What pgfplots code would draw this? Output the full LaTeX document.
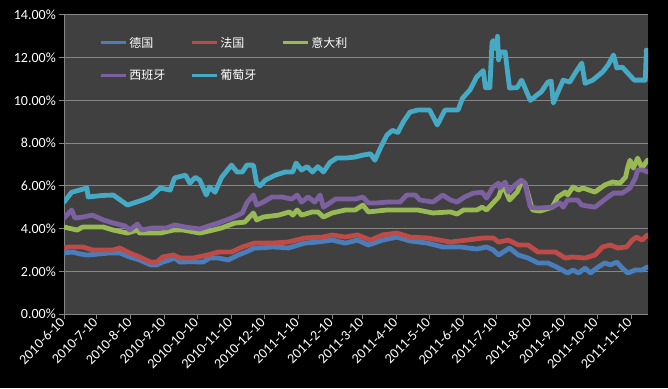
\documentclass[border=0pt]{standalone}
\usepackage{pgfplots}
\pgfplotsset{compat=1.18}
\usepackage{fontspec}
\setmainfont{Carlito}
\newfontfamily\cjk{Noto Sans CJK SC}
\definecolor{plotbg}{RGB}{64,64,64}
\definecolor{gridc}{RGB}{134,134,134}
\definecolor{sDE}{RGB}{74,126,187}
\definecolor{sFR}{RGB}{190,75,72}
\definecolor{sIT}{RGB}{152,185,84}
\definecolor{sES}{RGB}{125,96,160}
\definecolor{sPT}{RGB}{70,170,197}
\begin{document}
\begin{tikzpicture}
\fill[black] (0,0) rectangle (668pt,388pt);
\useasboundingbox (0,0) rectangle (668pt,388pt);
\begin{axis}[
  at={(64pt,74pt)}, anchor=south west,
  scale only axis, width=584pt, height=299pt,
  xmin=0, xmax=533.5, ymin=0, ymax=14,
  axis background/.style={fill=plotbg},
  axis x line*=bottom, axis y line*=left,
  axis line style={draw=gridc, line width=1pt, -},
  tick style={draw=gridc, line width=1pt},
  tick align=outside, major tick length=5pt,
  ymajorgrids, grid style={draw=gridc, line width=1pt},
  ytick={0,2,4,6,8,10,12,14},
  yticklabels={0.00\%,2.00\%,4.00\%,6.00\%,8.00\%,10.00\%,12.00\%,14.00\%},
  xtick={0,30,61,92,122,153,183,214,245,273,304,334,365,395,426,457,487,518},
  xticklabels={2010-6-10,2010-7-10,2010-8-10,2010-9-10,2010-10-10,2010-11-10,2010-12-10,2011-1-10,2011-2-10,2011-3-10,2011-4-10,2011-5-10,2011-6-10,2011-7-10,2011-8-10,2011-9-10,2011-10-10,2011-11-10},
  xticklabel style={rotate=45, anchor=east, text=white, font=\fontsize{14}{16}\selectfont, inner sep=2pt},
  yticklabel style={text=white, font=\fontsize{14}{16}\selectfont, inner sep=3pt},
  /pgf/number format/assume math mode=true,
  every axis plot/.append style={line width=4.8pt, line join=round, line cap=round},
  legend style={at={(0.055,0.94)}, anchor=north west, draw=none, fill=none, text=white,
    font=\cjk\fontsize{12}{14}\selectfont, legend columns=3,
    /tikz/every even column/.append style={column sep=23pt}, row sep=17pt},
  legend cell align=left,
  legend image code/.code={\draw[#1, line width=3pt, line cap=butt] (0pt,0pt) -- (25pt,0pt);},
]
\addplot[sDE] coordinates {(0,2.86)(8,2.9)(14,2.82)(21,2.76)(30,2.8)(42,2.86)(51,2.86)(60,2.67)(69,2.53)(79,2.3)(85,2.3)(90,2.43)(95,2.5)(101,2.62)(106,2.43)(115,2.45)(127,2.43)(133,2.62)(141,2.62)(150,2.53)(159,2.76)(166,2.9)(174,3.09)(182,3.1)(190,3.14)(198,3.12)(205,3.09)(212,3.2)(220,3.32)(232,3.37)(245,3.46)(257,3.32)(268,3.46)(278,3.23)(291,3.46)(304,3.6)(316,3.42)(332,3.32)(346,3.14)(362,3.14)(377,3.04)(386,3.14)(392,3.0)(397,2.76)(400,2.86)(407,3.09)(415,2.76)(424,2.62)(433,2.39)(442,2.39)(450,2.2)(460,1.92)(465,2.06)(470,1.92)(476,2.15)(481,1.92)(488,2.2)(494,2.39)(499,2.3)(505,2.43)(510,2.15)(515,1.92)(522,2.06)(528,2.06)(533,2.2)};
\addlegendentry{德国}
\addplot[sFR] coordinates {(0,3.09)(5,3.14)(17,3.14)(26,3.0)(45,3.0)(51,3.09)(60,2.86)(69,2.67)(79,2.43)(85,2.43)(90,2.67)(100,2.76)(106,2.62)(118,2.62)(131,2.76)(141,2.9)(153,2.9)(163,3.14)(174,3.32)(190,3.32)(205,3.37)(220,3.56)(236,3.6)(245,3.7)(257,3.6)(268,3.7)(280,3.46)(291,3.7)(304,3.79)(316,3.6)(332,3.56)(353,3.37)(368,3.46)(383,3.56)(392,3.56)(397,3.37)(406,3.46)(415,3.23)(424,3.23)(433,2.9)(449,2.9)(458,2.62)(464,2.67)(476,2.62)(485,2.76)(492,3.14)(499,3.23)(506,3.09)(514,3.14)(519,3.46)(523,3.6)(528,3.46)(533,3.7)};
\addlegendentry{法国}
\addplot[sIT] coordinates {(0,4.07)(12,3.93)(17,4.07)(36,4.07)(45,3.93)(58,3.79)(67,3.93)(69,3.79)(88,3.79)(100,3.93)(109,3.93)(124,3.79)(133,3.89)(144,4.03)(156,4.26)(165,4.3)(173,4.73)(176,4.4)(182,4.54)(196,4.63)(206,4.78)(209,4.63)(213,4.87)(217,4.63)(227,4.78)(232,4.78)(237,4.54)(245,4.73)(257,4.87)(266,4.87)(273,5.1)(278,4.78)(295,4.87)(323,4.87)(337,4.73)(353,4.78)(359,4.68)(365,4.87)(377,4.87)(382,5.0)(386,4.87)(397,5.48)(401,6.04)(407,5.34)(414,5.71)(418,6.18)(421,6.13)(428,4.87)(435,4.82)(446,5.0)(451,5.48)(458,5.71)(460,5.57)(465,5.95)(470,5.8)(474,5.9)(485,5.71)(494,6.04)(501,6.18)(508,6.13)(513,6.41)(515,6.88)(517,7.2)(520,6.83)(524,7.3)(528,6.83)(533,7.2)};
\addlegendentry{意大利}
\addplot[sES] coordinates {(0,4.49)(7,4.87)(10,4.49)(17,4.54)(26,4.63)(30,4.54)(36,4.4)(45,4.26)(56,4.12)(60,3.93)(67,4.21)(71,3.93)(81,4.03)(94,4.03)(101,4.17)(111,4.07)(124,3.98)(132,4.12)(141,4.26)(153,4.49)(163,4.73)(167,5.2)(173,5.57)(176,5.1)(182,5.24)(190,5.48)(199,5.48)(208,5.38)(213,5.57)(217,5.24)(223,5.48)(229,5.24)(234,5.57)(237,5.0)(248,5.38)(266,5.38)(273,5.48)(278,5.2)(286,5.2)(295,5.24)(307,5.24)(313,5.57)(321,5.57)(325,5.34)(337,5.24)(346,5.57)(353,5.34)(359,5.24)(366,5.48)(374,5.66)(382,5.7)(386,5.43)(392,5.95)(397,6.13)(398,5.9)(403,6.18)(406,5.71)(412,6.04)(418,6.27)(421,6.13)(426,5.0)(433,4.96)(446,5.0)(453,5.2)(456,5.0)(460,5.34)(469,5.34)(473,5.1)(485,5.0)(490,5.2)(497,5.48)(502,5.66)(510,5.66)(517,5.9)(522,6.37)(524,6.74)(529,6.74)(533,6.65)};
\addlegendentry{西班牙}
\addplot[sPT] coordinates {(0,5.24)(7,5.7)(14,5.8)(21,5.9)(22,5.48)(35,5.55)(45,5.57)(58,5.1)(72,5.34)(79,5.48)(88,5.9)(97,5.8)(101,6.37)(111,6.5)(115,6.13)(120,6.4)(124,6.27)(130,5.57)(133,5.95)(138,5.7)(144,6.4)(153,6.97)(158,6.65)(163,6.65)(167,6.97)(173,6.97)(176,6.13)(179,6.0)(184,6.27)(193,6.5)(202,6.65)(209,6.65)(212,7.07)(217,6.74)(222,6.9)(227,6.65)(232,6.9)(237,6.65)(243,7.1)(249,7.3)(257,7.3)(266,7.35)(273,7.44)(280,7.5)(284,7.2)(289,7.77)(295,8.38)(300,8.6)(305,8.5)(310,9.0)(316,9.45)(323,9.55)(334,9.55)(341,8.85)(348,9.55)(360,9.55)(364,10.1)(371,10.5)(377,11.1)(383,11.4)(385,10.6)(389,10.6)(391,12.7)(392,12.8)(395,12.4)(396,13.0)(397,11.9)(399,12.27)(403,12.27)(407,10.58)(414,10.6)(418,10.95)(421,10.6)(426,10.0)(432,10.25)(436,10.4)(442,10.86)(445,10.9)(447,9.88)(450,10.25)(456,10.95)(462,10.86)(467,11.28)(473,11.75)(476,10.8)(483,10.95)(492,11.33)(497,11.66)(502,12.13)(505,11.52)(510,11.56)(515,11.28)(521,10.95)(531,10.95)(532,12.36)};
\addlegendentry{葡萄牙}
\end{axis}
\end{tikzpicture}
\end{document}
